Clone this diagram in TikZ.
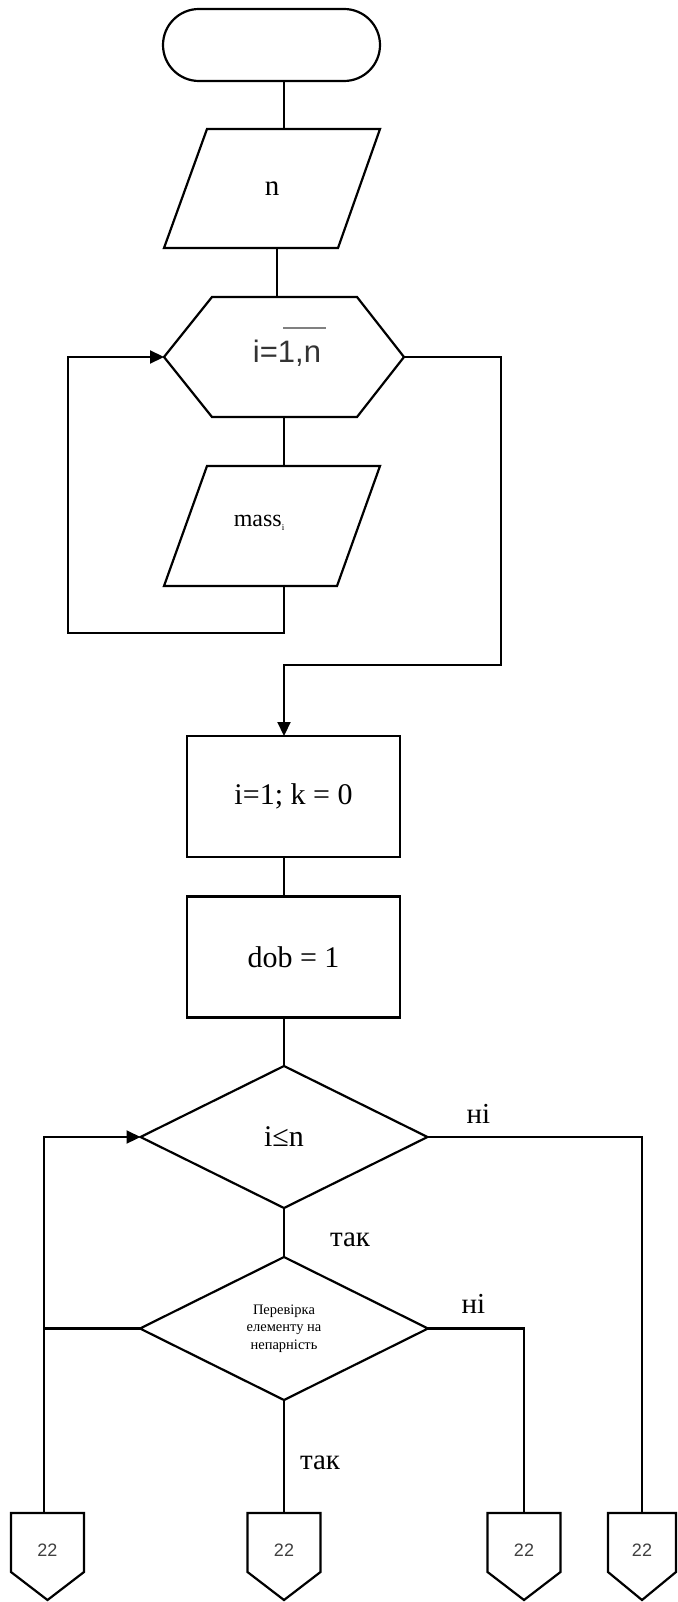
\documentclass[tikz,border=0pt]{standalone}
\usepackage{fontspec}
\setmainfont{Liberation Serif}
\newfontfamily\sansf{Liberation Sans}
\usetikzlibrary{shapes.geometric,arrows.meta,calc}
\begin{document}
\begin{tikzpicture}[x=1pt,y=-1pt,
  ln/.style={line width=2.2pt, line join=miter},
  arr/.style={ln,-{Triangle[length=14pt,width=13pt]}},
  bbox/.style={inner sep=0pt, outer sep=0pt},
  rectbox/.style={draw, ln, bbox, minimum width=213pt, minimum height=121pt, font=\fontsize{30}{36}\selectfont},
  dia/.style={draw, ln, bbox, diamond, aspect=2, minimum width=287pt, minimum height=142pt},
  conn/.style={bbox, minimum width=73pt, minimum height=87pt},
  lbl/.style={font=\fontsize{29}{34}\selectfont, inner sep=0pt},
  num/.style={font=\sansf\fontsize{18}{20}\selectfont, text=black!75, inner sep=0pt},
]
\fill[white] (0,0) rectangle (677,1602);
\useasboundingbox (0,0) rectangle (677,1602);

% axes
\coordinate (a1) at (284,0);
\coordinate (a2) at (277,0);
\coordinate (lx) at (44,0);

% terminator
\node[draw, ln, bbox, rounded corners=36pt, minimum width=217pt, minimum height=72pt] (start) at (271.5,45) {};

% input n
\node[bbox, minimum width=216pt, minimum height=119pt, font=\fontsize{29}{34}\selectfont] (inN) at (272,188.5) {n};
\draw[ln] (inN.south west) -- ($(inN.south east)+(-42,0)$) -- (inN.north east) -- ($(inN.north west)+(43,0)$) -- cycle;

% loop hexagon
\node[bbox, minimum width=240pt, minimum height=120pt] (hex) at (284,357) {};
\draw[ln] (hex.west) -- ($(hex.north west)+(48,0)$) -- ($(hex.north east)+(-47,0)$) -- (hex.east)
  -- ($(hex.south east)+(-47,0)$) -- ($(hex.south west)+(48,0)$) -- cycle;
\node[bbox, font=\sansf\fontsize{31}{36}\selectfont, text=black!80] (hexT) at (287,353) {i=1,n};
\draw[line width=1.4pt, black!50] ($(hexT.center)+(-4,-25)$) -- ($(hexT.center)+(39,-25)$);

% input mass
\node[bbox, minimum width=216pt, minimum height=120pt] (inM) at (272,526) {};
\draw[ln] (inM.south west) -- ($(inM.south east)+(-43,0)$) -- (inM.north east) -- ($(inM.north west)+(43,0)$) -- cycle;
\node[bbox, font=\fontsize{24}{28}\selectfont] (inMT) at (259,523) {mass\raisebox{-4pt}{\fontsize{9}{10}\selectfont i}};

% process boxes
\node[rectbox] (init) at (293.5,796.5) {i=1; k = 0};
\node[rectbox] (dob) at (293.5,957) {dob = 1};

% decisions
\node[dia, font=\fontsize{30}{36}\selectfont] (d1) at (284,1137) {i≤n};
\node[dia, minimum width=288pt, minimum height=143pt, align=center, font=\fontsize{14.5}{17.5}\selectfont] (d2) at (284,1328.5) {Перевірка\\елементу на\\непарність};

% off-page connectors
\node[conn] (c1) at (47.5,1556.5) {};
\node[conn] (c2) at (284,1556.5) {};
\node[conn] (c3) at (524,1556.5) {};
\node[conn, minimum width=68pt] (c4) at (642,1556.5) {};
\foreach \c in {c1,c2,c3,c4}{
  \draw[ln] (\c.north west) -- (\c.north east) -- ($(\c.south east)+(0,-28)$) -- (\c.south)
    -- ($(\c.south west)+(0,-28)$) -- cycle;
}
\node[num] (c1t) at ($(c1)+(0,-6)$) {22};
\node[num] (c2t) at ($(c2)+(0,-6)$) {22};
\node[num] (c3t) at ($(c3)+(0,-6)$) {22};
\node[num] (c4t) at ($(c4)+(0,-6)$) {22};

% connectors
\draw[ln] (start.south -| a1) -- (inN.north -| a1);
\draw[ln] (inN.south -| a2) -- (hex.north -| a2);
\draw[ln] (hex.south) -- (hex.south |- inM.north);
\coordinate (lb) at (68,633);
\draw[arr] (inM.south -| hex.south) |- (lb) |- (hex.west);
\coordinate (rb) at (501,665);
\draw[arr] (hex.east) -| (rb) -| (init.north -| hex.south);
\draw[ln] (init.south -| hex.south) -- (dob.north -| hex.south);
\draw[ln] (dob.south -| hex.south) -- (d1.north);
\draw[ln] (d1.south) -- (d2.north);
\draw[arr] (c1.north -| lx) |- (d1.west);
\draw[ln] (d2.west) -- (d2.west -| lx);
\draw[ln] (d2.south) -- (c2.north);
\draw[ln] (d2.east) -| (c3.north);
\draw[ln] (d1.east) -| (c4.north);

% labels
\node[lbl] (yes1) at (350,1240) {так};
\node[lbl] (no1) at (478.5,1114) {ні};
\node[lbl] (no2) at (473.5,1304) {ні};
\node[lbl] (yes2) at (320,1463) {так};
\end{tikzpicture}
\end{document}
